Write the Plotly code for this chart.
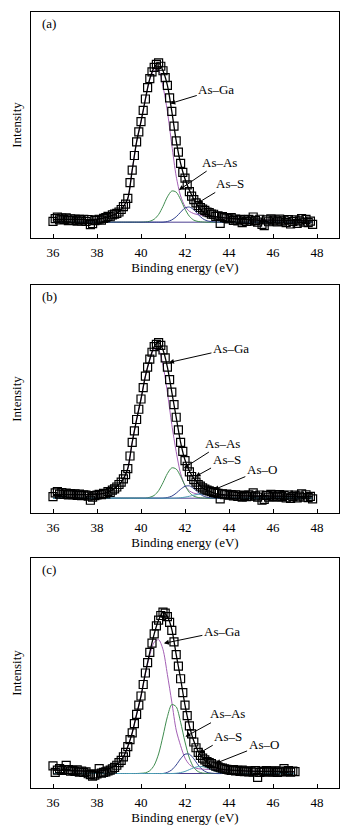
import plotly.graph_objects as go

# ---------------- data ----------------
# Binding energy grid of the measured points (a) and (b); (c) ends at 47.0 eV
ENERGY_AB = [36.0, 36.1, 36.2, 36.3, 36.4, 36.5, 36.6, 36.7, 36.8, 36.9,
             37.0, 37.1, 37.2, 37.3, 37.4, 37.5, 37.6, 37.7, 37.8, 37.9,
             38.0, 38.1, 38.2, 38.3, 38.4, 38.5, 38.6, 38.7, 38.8, 38.9,
             39.0, 39.1, 39.2, 39.3, 39.4, 39.5, 39.6, 39.7, 39.8, 39.9,
             40.0, 40.1, 40.2, 40.3, 40.4, 40.5, 40.6, 40.7, 40.8, 40.9,
             41.0, 41.1, 41.2, 41.3, 41.4, 41.5, 41.6, 41.7, 41.8, 41.9,
             42.0, 42.1, 42.2, 42.3, 42.4, 42.5, 42.6, 42.7, 42.8, 42.9,
             43.0, 43.1, 43.2, 43.3, 43.4, 43.5, 43.6, 43.7, 43.8, 43.9,
             44.0, 44.1, 44.2, 44.3, 44.4, 44.5, 44.6, 44.7, 44.8, 44.9,
             45.0, 45.1, 45.2, 45.3, 45.4, 45.5, 45.6, 45.7, 45.8, 45.9,
             46.0, 46.1, 46.2, 46.3, 46.4, 46.5, 46.6, 46.7, 46.8, 46.9,
             47.0, 47.1, 47.2, 47.3, 47.4, 47.5, 47.6, 47.7, 47.8]
ENERGY_C = ENERGY_AB[:111]

DATA_A = [7.4, 8.6, 9.2, 8.0, 8.8, 8.2, 8.9, 7.7, 8.5, 7.8,
          8.4, 7.5, 8.2, 7.6, 8.3, 7.3, 8.1, 5.9, 6.4, 7.7,
          8.0, 8.3, 7.9, 8.7, 9.0, 9.6, 9.4, 10.2, 10.6, 10.9,
          11.5, 12.6, 13.9, 15.0, 17.5, 24.5, 30.0, 36.5, 42.5, 47.0,
          51.5, 56.5, 61.5, 66.5, 70.5, 73.5, 75.5, 76.8, 77.5, 76.0,
          74.0, 71.0, 67.5, 62.0, 56.0, 49.5, 43.0, 38.0, 33.0, 29.0,
          26.5, 23.5, 20.5, 18.5, 17.0, 15.5, 14.3, 13.5, 12.8, 12.2,
          11.5, 11.2, 10.6, 10.5, 9.6, 9.8, 6.5, 9.5, 9.0, 8.8,
          8.5, 9.0, 7.8, 8.4, 7.6, 8.2, 6.8, 8.0, 7.4, 8.2,
          7.5, 9.3, 7.8, 7.0, 8.3, 6.0, 5.5, 8.0, 7.2, 8.5,
          7.6, 8.0, 7.1, 8.4, 7.5, 7.9, 6.8, 8.1, 6.2, 7.3,
          8.0, 6.5, 7.6, 8.6, 7.0, 8.2, 6.8, 7.5, 6.0]

DATA_B = [7.2, 8.8, 9.4, 8.3, 9.0, 8.2, 8.7, 7.9, 8.5, 8.1,
          8.4, 7.7, 8.3, 7.6, 8.0, 7.8, 7.4, 5.6, 7.0, 7.6,
          7.9, 8.2, 8.0, 8.6, 8.4, 9.4, 9.0, 10.0, 10.6, 11.4,
          12.5, 13.5, 15.0, 16.8, 19.5, 25.0, 31.0, 36.0, 41.0, 45.5,
          50.0, 55.0, 60.0, 64.0, 67.5, 70.5, 73.0, 74.0, 74.7, 73.5,
          71.5, 68.0, 64.0, 58.5, 53.0, 47.5, 42.0, 36.5, 31.0, 27.0,
          23.0, 20.5, 18.0, 16.0, 14.6, 13.5, 12.5, 11.8, 11.0, 10.5,
          10.0, 9.7, 9.4, 9.0, 8.8, 8.6, 6.2, 8.4, 8.0, 8.3,
          7.8, 8.1, 7.5, 8.0, 7.3, 7.9, 6.9, 7.6, 7.2, 8.0,
          7.4, 8.8, 7.5, 7.0, 7.9, 5.6, 6.0, 7.7, 7.0, 8.2,
          7.3, 7.8, 7.0, 8.1, 7.2, 7.7, 6.6, 7.9, 6.4, 7.2,
          7.8, 6.6, 7.4, 8.4, 6.9, 8.0, 6.7, 7.3, 6.2]

DATA_C = [9.6, 6.8, 7.8, 8.4, 7.6, 8.0, 9.8, 8.0, 7.3, 7.7,
          7.2, 7.9, 6.9, 7.4, 6.8, 7.0, 6.2, 5.8, 5.2, 5.6,
          6.1, 8.4, 6.5, 6.8, 7.0, 7.4, 7.8, 8.3, 9.0, 9.9,
          11.0, 12.0, 13.5, 15.5, 18.0, 21.0, 24.0, 28.0, 32.0, 36.0,
          40.0, 45.0, 50.0, 54.5, 59.0, 63.0, 67.0, 70.5, 73.0, 75.0,
          76.5, 76.0, 74.5, 72.0, 68.5, 63.5, 58.0, 53.0, 47.5, 41.5,
          36.0, 31.5, 27.0, 23.5, 20.0, 17.5, 15.5, 14.2, 13.0, 12.2,
          11.5, 11.0, 10.6, 10.0, 9.5, 9.2, 8.8, 8.6, 8.3, 8.1,
          7.9, 7.6, 8.0, 7.4, 7.7, 7.2, 7.8, 7.1, 7.5, 7.0,
          7.3, 6.9, 7.6, 4.6, 6.8, 7.4, 7.1, 7.6, 6.9, 7.3,
          7.0, 7.5, 6.8, 7.4, 7.0, 8.4, 7.1, 7.6, 6.9, 7.4,
          7.1]

# Grid on which the fitted component curves are read
CURVE_X = [36.0, 37.0, 38.0, 38.5, 39.0, 39.2, 39.4, 39.6, 39.8, 40.0,
           40.2, 40.4, 40.6, 40.8, 41.0, 41.2, 41.4, 41.6, 41.8, 42.0,
           42.2, 42.4, 42.6, 42.8, 43.0, 43.4, 43.8, 44.4, 45.0, 46.0,
           47.0, 47.8]
CURVE_X_C = CURVE_X[:31]

# Background levels
BASE_A = 7.0
BASE_B = 6.5
BASE_C = 6.3

# Component heights above the background
ASGA_A = [1.2, 1.2, 1.3, 2.3, 4.5, 6.9, 10.5, 23.0, 35.5, 44.5,
          54.4, 63.1, 67.2, 67.1, 60.0, 49.0, 34.2, 20.3, 11.6, 7.0,
          4.8, 3.8, 3.3, 3.0, 2.7, 2.3, 1.9, 1.4, 1.1, 0.9, 0.7, 0.6]
ASAS_A = [0, 0, 0, 0, 0, 0, 0, 0, 0, 0.0,
          0.1, 0.4, 1.3, 3.4, 7.0, 11.2, 13.8, 13.3, 10.0, 5.8,
          2.6, 0.9, 0.3, 0.1, 0.0, 0, 0, 0, 0, 0, 0, 0]
ASS_A = [0, 0, 0, 0, 0, 0, 0, 0, 0, 0,
         0, 0, 0, 0, 0, 0.3, 1.0, 2.4, 4.4, 6.3,
         6.7, 5.5, 3.4, 1.6, 0.6, 0.1, 0, 0, 0, 0, 0, 0]

ASGA_B = [1.6, 1.6, 1.7, 2.6, 6.0, 8.5, 13.0, 24.5, 34.5, 43.5,
          53.5, 60.6, 65.3, 64.9, 58.2, 46.4, 32.3, 20.4, 10.8, 5.5,
          3.2, 2.2, 1.8, 1.6, 1.5, 1.4, 1.3, 1.1, 1.0, 0.9, 0.8, 0.7]
ASAS_B = [0, 0, 0, 0, 0, 0, 0, 0, 0, 0,
          0, 0.4, 1.2, 3.3, 6.8, 10.8, 13.3, 12.8, 9.6, 5.6,
          2.5, 0.9, 0.3, 0.1, 0, 0, 0, 0, 0, 0, 0, 0]
ASS_B = [0, 0, 0, 0, 0, 0, 0, 0, 0, 0,
         0, 0, 0, 0, 0, 0.3, 0.9, 2.2, 3.9, 5.2,
         5.4, 4.2, 2.5, 1.1, 0.4, 0, 0, 0, 0, 0, 0, 0]
ASO_B = [0, 0, 0, 0, 0, 0, 0, 0, 0, 0,
         0, 0, 0, 0, 0, 0, 0, 0.05, 0.2, 0.45,
         0.85, 1.33, 1.7, 1.8, 1.55, 0.64, 0.12, 0, 0, 0, 0, 0]

ASGA_C = [1.5, 1.2, 1.0, 1.8, 4.7, 7.2, 11.7, 17.7, 25.7, 33.6,
          43.4, 51.5, 57.1, 58.2, 53.9, 43.0, 31.1, 18.9, 12.1, 6.7,
          3.9, 2.6, 2.1, 1.9, 1.8, 1.7, 1.5, 1.3, 1.0, 0.9, 0.7]
ASAS_C = [0, 0, 0, 0, 0, 0, 0, 0, 0, 0.1,
          0.3, 1.2, 3.6, 8.5, 16.3, 24.7, 30.0, 29.0, 22.3, 13.7,
          6.7, 2.6, 0.8, 0.2, 0.05, 0, 0, 0, 0, 0, 0]
ASS_C = [0, 0, 0, 0, 0, 0, 0, 0, 0, 0,
         0, 0, 0, 0, 0, 0.5, 1.6, 3.7, 6.4, 8.4,
         8.4, 6.4, 3.7, 1.6, 0.5, 0, 0, 0, 0, 0, 0]
ASO_C = [0, 0, 0, 0, 0, 0, 0, 0, 0, 0,
         0, 0, 0, 0, 0, 0, 0, 0.1, 0.4, 0.9,
         1.7, 2.5, 3.0, 3.0, 2.5, 0.9, 0.15, 0, 0, 0, 0]

X_TICKS = [36, 38, 40, 42, 44, 46, 48]
PANEL_LABELS = ["(a)", "(b)", "(c)"]

# (label, tip energy, tip intensity, text offset x, text offset y)
NOTES_A = [("As\u2013Ga", 41.33, 59.5, 46, -14),
           ("As\u2013As", 41.72, 21.2, 41, -28),
           ("As\u2013S", 42.55, 15.3, 33, -20)]
NOTES_B = [("As\u2013Ga", 41.27, 66.0, 62, -14),
           ("As\u2013As", 41.95, 19.7, 39, -25),
           ("As\u2013S", 42.48, 16.0, 31, -17),
           ("As\u2013O", 43.31, 10.2, 48, -20)]
NOTES_C = [("As\u2013Ga", 41.04, 62.9, 58, -12),
           ("As\u2013As", 42.02, 22.3, 42, -23),
           ("As\u2013S", 42.64, 15.1, 29, -17),
           ("As\u2013O", 43.39, 10.7, 48, -19)]

# ---------------- styling ----------------
FONT = "Liberation Serif"
C_GA = "#a35fb5"
C_AS = "#3f8c4f"
C_S = "#31408e"
C_O = "#4d9db3"
C_BG = "#4a3f90"

H = 834
L_MARGIN = 31
PLOT_W = 308
# panel frames in pixels (top, bottom)
FRAMES = [(12, 238), (285, 513), (558, 788)]

fig = go.Figure()

panels = [
    (ENERGY_AB, DATA_A, CURVE_X, BASE_A, [(ASGA_A, C_GA), (ASAS_A, C_AS), (ASS_A, C_S)], NOTES_A),
    (ENERGY_AB, DATA_B, CURVE_X, BASE_B, [(ASGA_B, C_GA), (ASAS_B, C_AS), (ASS_B, C_S), (ASO_B, C_O)], NOTES_B),
    (ENERGY_C, DATA_C, CURVE_X_C, BASE_C, [(ASGA_C, C_GA), (ASAS_C, C_AS), (ASS_C, C_S), (ASO_C, C_O)], NOTES_C),
]

annotations = []
for i, (ex, ey, cx, base, comps, notes) in enumerate(panels):
    n = i + 1
    xa = "x" if n == 1 else f"x{n}"
    ya = "y" if n == 1 else f"y{n}"
    # background
    fig.add_trace(go.Scatter(x=[cx[0], cx[-1]], y=[base, base], mode="lines",
                             line=dict(color=C_BG, width=1), xaxis=xa, yaxis=ya,
                             showlegend=False, hoverinfo="skip"))
    # components
    for vals, col in comps:
        fig.add_trace(go.Scatter(x=cx, y=[base + v for v in vals], mode="lines",
                                 line=dict(color=col, width=1, shape="spline", smoothing=0.8),
                                 xaxis=xa, yaxis=ya, showlegend=False))
    # envelope
    env = [base + sum(c[0][k] for c in comps) for k in range(len(cx))]
    fig.add_trace(go.Scatter(x=cx, y=env, mode="lines",
                             line=dict(color="black", width=1.3, shape="spline", smoothing=0.8),
                             xaxis=xa, yaxis=ya, showlegend=False))
    # measured points
    fig.add_trace(go.Scatter(x=ex, y=ey, mode="markers",
                             marker=dict(symbol="square-open", size=8, color="black",
                                         line=dict(width=1.2, color="black")),
                             xaxis=xa, yaxis=ya, showlegend=False))
    top, bot = FRAMES[i]
    dom = [1 - bot / H, 1 - top / H]
    axis_common = dict(showline=True, linecolor="black", linewidth=1.3, mirror=True,
                       showgrid=False, zeroline=False)
    fig.update_layout(**{
        ("xaxis" if n == 1 else f"xaxis{n}"): dict(
            axis_common, range=[35, 49], tickvals=X_TICKS, ticks="inside", ticklen=4,
            tickwidth=1, tickcolor="black", anchor=ya, domain=[0, 1],
            ticklabelstandoff=2,
            tickfont=dict(family=FONT, size=13, color="black"),
            title=dict(text="Binding energy (eV)", font=dict(family=FONT, size=13, color="black"),
                       standoff=3)),
        ("yaxis" if n == 1 else f"yaxis{n}"): dict(
            axis_common, range=[0, 100], showticklabels=False, ticks="", anchor=xa, domain=dom,
            title=dict(text="Intensity", font=dict(family=FONT, size=13, color="black"),
                       standoff=5)),
    })
    annotations.append(dict(text=PANEL_LABELS[i], xref="paper", yref="paper",
                            x=(40 - L_MARGIN) / PLOT_W, y=dom[1] - 11.5 / H,
                            xanchor="left", yanchor="middle", showarrow=False,
                            font=dict(family=FONT, size=13, color="black")))
    for label, tx, ty, axp, ayp in notes:
        annotations.append(dict(text=label, x=tx, y=ty, xref=xa, yref=ya, ax=axp, ay=ayp,
                                showarrow=True, arrowhead=2, arrowsize=1, arrowwidth=1,
                                arrowcolor="black", standoff=0,
                                font=dict(family=FONT, size=13, color="black")))

fig.update_layout(width=355, height=834, margin=dict(l=L_MARGIN, r=16, t=0, b=0),
                  paper_bgcolor="white", plot_bgcolor="white", showlegend=False,
                  annotations=annotations)

fig.write_html("out.html", config={"displayModeBar": False},
               post_script="document.body.style.margin='0px';")
